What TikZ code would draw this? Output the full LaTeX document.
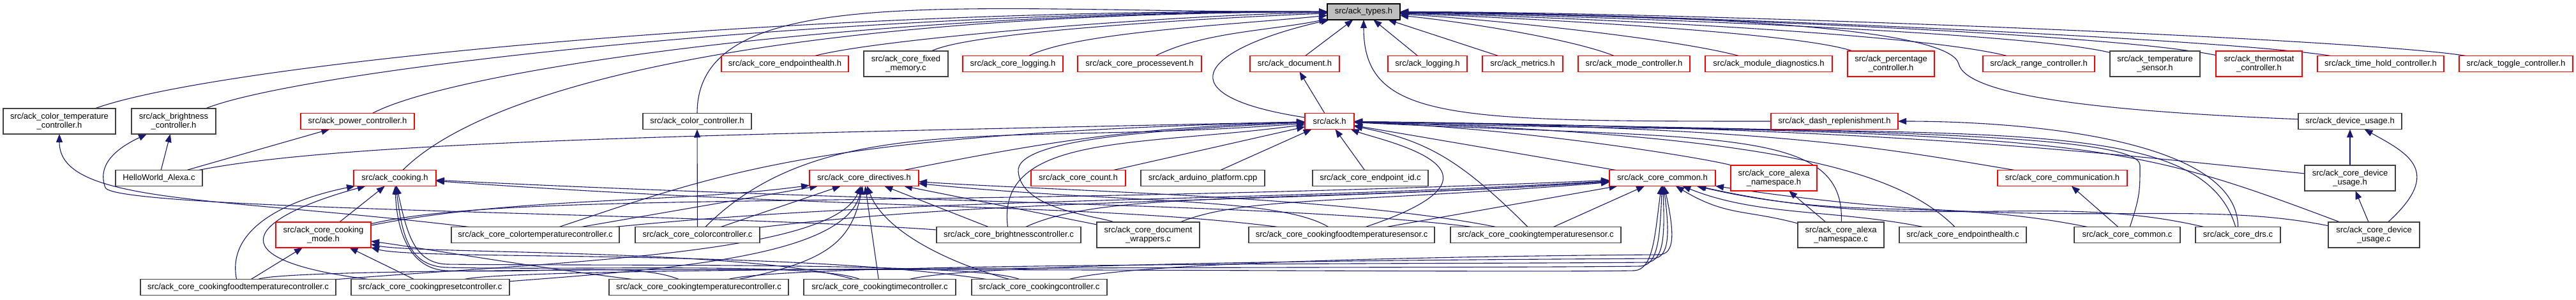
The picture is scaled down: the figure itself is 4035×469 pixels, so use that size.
\documentclass[tikz,border=0pt]{standalone}
\usepackage{fontspec}
\setmainfont{Liberation Sans}
\usepackage{xcolor}
\usepackage{tikz}
\usetikzlibrary{arrows.meta,positioning,backgrounds}

\definecolor{edgeblue}{HTML}{191970}
\definecolor{rootgray}{HTML}{BFBFBF}

\begin{document}
\begin{tikzpicture}[
  x=1pt, y=1pt,
  font=\fontsize{13}{14}\selectfont,
  box/.style={draw=black!75, fill=white, line width=1.2pt, minimum height=25pt, inner sep=2pt, outer sep=0pt, align=center},
  redbox/.style={box, draw=red},
  root/.style={box, draw=black, fill=rootgray},
  twoline/.style={minimum height=40pt},
  dep/.style={draw=edgeblue, line width=1.1pt, -{Triangle[length=13pt,width=10pt]}}
]
  \useasboundingbox (0,0) rectangle (4035,469);

  % the header everything hangs off
  \node[root, minimum width=114pt] (types) at (2136,450.5) {src/ack\_types.h};

  % first row
  \node[redbox, minimum width=199pt] (ceph) at (1229.5,369) {src/ack\_core\_endpointhealth.h};
  \node[box, twoline, minimum width=132pt, right=24pt of ceph] (cfm) {src/ack\_core\_fixed\\\_memory.c};
  \node[redbox, minimum width=157pt, right=23pt of cfm] (clog) {src/ack\_core\_logging.h};
  \node[redbox, minimum width=194pt, right=23pt of clog] (cpe) {src/ack\_core\_processevent.h};
  \node[redbox, minimum width=140pt, right=76pt of cpe] (doc) {src/ack\_document.h};
  \node[redbox, minimum width=124pt, right=76pt of doc] (log) {src/ack\_logging.h};
  \node[redbox, minimum width=126pt, right=24pt of log] (met) {src/ack\_metrics.h};
  \node[redbox, minimum width=175pt, right=24pt of met] (mode) {src/ack\_mode\_controller.h};
  \node[redbox, minimum width=199pt, right=24pt of mode] (diag) {src/ack\_module\_diagnostics.h};
  \node[redbox, twoline, minimum width=136pt, right=24pt of diag] (pct) {src/ack\_percentage\\\_controller.h};
  \node[redbox, minimum width=175pt, right=76pt of pct] (range) {src/ack\_range\_controller.h};
  \node[box, twoline, minimum width=141pt, right=24pt of range] (tsens) {src/ack\_temperature\\\_sensor.h};
  \node[redbox, twoline, minimum width=135pt, right=25pt of tsens] (thermo) {src/ack\_thermostat\\\_controller.h};
  \node[redbox, minimum width=198pt, right=24pt of thermo] (thold) {src/ack\_time\_hold\_controller.h};
  \node[redbox, minimum width=178pt, right=24pt of thold] (toggle) {src/ack\_toggle\_controller.h};

  % second row
  \node[box, twoline, minimum width=176pt] (ctc) at (93,279) {src/ack\_color\_temperature\\\_controller.h};
  \node[box, twoline, minimum width=132pt, right=25pt of ctc] (bc) {src/ack\_brightness\\\_controller.h};
  \node[redbox, minimum width=178pt, right=133pt of bc] (pc) {src/ack\_power\_controller.h};
  \node[box, minimum width=170pt, right=358pt of pc] (cc) {src/ack\_color\_controller.h};
  \node[redbox, minimum width=77pt, right=867pt of cc] (ack) {src/ack.h};
  \node[redbox, minimum width=199pt, right=653pt of ack] (dash) {src/ack\_dash\_replenishment.h};
  \node[box, minimum width=162pt, right=627pt of dash] (du) {src/ack\_device\_usage.h};

  % third row
  \node[box, minimum width=136pt] (hw) at (249,190) {HelloWorld\_Alexa.c};
  \node[redbox, minimum width=129pt, right=237pt of hw] (cook) {src/ack\_cooking.h};
  \node[redbox, minimum width=171pt, right=585pt of cook] (dir) {src/ack\_core\_directives.h};
  \node[redbox, minimum width=148pt, right=176pt of dir] (cnt) {src/ack\_core\_count.h};
  \node[box, minimum width=194pt, right=24pt of cnt] (ard) {src/ack\_arduino\_platform.cpp};
  \node[box, minimum width=181pt, right=75pt of ard] (eid) {src/ack\_core\_endpoint\_id.c};
  \node[redbox, minimum width=166pt, right=284pt of eid] (com) {src/ack\_core\_common.h};
  \node[redbox, twoline, minimum width=135pt, right=24pt of com] (ans) {src/ack\_core\_alexa\\\_namespace.h};
  \node[redbox, minimum width=203pt, right=283pt of ans] (comm) {src/ack\_core\_communication.h};
  \node[box, twoline, minimum width=142pt, right=278pt of comm] (cdu) {src/ack\_core\_device\\\_usage.h};

  % fourth row
  \node[redbox, twoline, minimum width=149pt] (ccm) at (506.5,101) {src/ack\_core\_cooking\\\_mode.h};
  \node[box, minimum width=263pt, right=126pt of ccm] (ctcc) {src/ack\_core\_colortemperaturecontroller.c};
  \node[box, minimum width=195pt, right=25pt of ctcc] (ccc) {src/ack\_core\_colorcontroller.c};
  \node[box, minimum width=226pt, right=277pt of ccc] (cbc) {src/ack\_core\_brightnesscontroller.c};
  \node[box, twoline, minimum width=161pt, right=25pt of cbc] (cdw) {src/ack\_core\_document\\\_wrappers.c};
  \node[box, minimum width=291pt, right=77pt of cdw] (cfts) {src/ack\_core\_cookingfoodtemperaturesensor.c};
  \node[box, minimum width=267pt, right=25pt of cfts] (cts) {src/ack\_core\_cookingtemperaturesensor.c};
  \node[box, twoline, minimum width=135pt, right=277pt of cts] (cansc) {src/ack\_core\_alexa\\\_namespace.c};
  \node[box, minimum width=199pt, right=24pt of cansc] (cehc) {src/ack\_core\_endpointhealth.c};
  \node[box, minimum width=166pt, right=75pt of cehc] (ccomc) {src/ack\_core\_common.c};
  \node[box, minimum width=133pt, right=24pt of ccomc] (drs) {src/ack\_core\_drs.c};
  \node[box, twoline, minimum width=143pt, right=75pt of drs] (cduc) {src/ack\_core\_device\\\_usage.c};

  % bottom row
  \node[box, minimum width=306pt] (cftc) at (373,19) {src/ack\_core\_cookingfoodtemperaturecontroller.c};
  \node[box, minimum width=248pt, right=24pt of cftc] (cpc) {src/ack\_core\_cookingpresetcontroller.c};
  \node[box, minimum width=281pt, right=156pt of cpc] (ctmpc) {src/ack\_core\_cookingtemperaturecontroller.c};
  \node[box, minimum width=238pt, right=24pt of ctmpc] (ctimc) {src/ack\_core\_cookingtimecontroller.c};
  \node[box, minimum width=212pt, right=25pt of ctimc] (cokc) {src/ack\_core\_cookingcontroller.c};

  \begin{scope}[on background layer]
  \fill[white] (0,0) rectangle (4035,469);

  % into ack_types.h
  \draw[dep] (ceph) .. controls +(150,40) and +(-300,-5) .. (types);
  \draw[dep] (cfm) .. controls +(100,50) and +(-250,-10) .. (types);
  \draw[dep] (clog) .. controls +(100,50) and +(-200,-20) .. (types);
  \draw[dep] (cpe) .. controls +(100,50) and +(-150,-30) .. (types);
  \draw[dep] (doc) -- (types);
  \draw[dep] (log) -- (types);
  \draw[dep] (met) -- (types);
  \draw[dep] (mode) .. controls +(-100,40) and +(150,-15) .. (types);
  \draw[dep] (diag) .. controls +(-150,40) and +(200,-12) .. (types);
  \draw[dep] (pct) .. controls +(-150,50) and +(250,-10) .. (types);
  \draw[dep] (range) .. controls +(-200,50) and +(300,-8) .. (types);
  \draw[dep] (tsens) .. controls +(-200,50) and +(350,-6) .. (types);
  \draw[dep] (thermo) .. controls +(-250,50) and +(400,-4) .. (types);
  \draw[dep] (thold) .. controls +(-250,40) and +(450,-2) .. (types);
  \draw[dep] (toggle) .. controls +(-250,40) and +(500,0) .. (types);
  \draw[dep] (ctc) .. controls +(250,90) and +(-900,5) .. (types);
  \draw[dep] (bc) .. controls +(200,80) and +(-850,2) .. (types);
  \draw[dep] (pc) .. controls +(150,80) and +(-800,0) .. (types);
  \draw[dep] (cc) .. controls +(0,221) and (1500,450) .. (types);
  \draw[dep] (cook) .. controls +(150,150) and +(-900,-3) .. (types);
  \draw[dep] (ack) .. controls +(-260,40) and +(-260,-60) .. (types);
  \draw[dep] (dash) .. controls +(-600,0) and +(0,-170.5) .. (types);
  \draw[dep] (du) .. controls +(-400,16) and (3080,320) .. (3068,369)
    .. controls (3055,420) and +(600,-5) .. (types);
  \draw[dep] (ack) -- (doc);

  % into the second row
  \draw[dep] (hw) -- (bc);
  \draw[dep] (hw) -- (pc);
  \draw[dep] (ctcc) .. controls +(-500,60) and +(0,-130) .. (ctc);
  \draw[dep] (cbc) .. controls (1100,135) and (180,140) .. (165,175)
    .. controls (150,215) and (190,240) .. (bc);
  \draw[dep] (ccc) -- (cc);
  \draw[dep] (drs) .. controls +(0,150) and +(300,0) .. (dash);
  \draw[dep] (cdu) -- (du);
  \draw[dep] (cduc) .. controls +(110,100) and +(90,-50) .. (du);

  % into ack.h
  \draw[dep] (hw) .. controls +(300,60) and +(-900,-20) .. (ack);
  \draw[dep] (dir) .. controls +(300,60) and +(-300,-10) .. (ack);
  \draw[dep] (cnt) -- (ack);
  \draw[dep] (ard) -- (ack);
  \draw[dep] (eid) -- (ack);
  \draw[dep] (com) -- (ack);
  \draw[dep] (ans) .. controls +(-100,30) and +(300,-10) .. (ack);
  \draw[dep] (comm) .. controls +(-300,50) and +(700,-10) .. (ack);
  \draw[dep] (cdu) .. controls +(-400,40) and +(900,-10) .. (ack);
  \draw[dep] (ctcc) .. controls +(300,100) and +(-800,-20) .. (ack);
  \draw[dep] (ccc) .. controls +(200,200) and +(-500,-40) .. (ack);
  \draw[dep] (cbc) .. controls +(-20,160) and +(-300,-40) .. (ack);
  \draw[dep] (cdw) .. controls +(-80,30) and (1600,140) .. (1595,200)
    .. controls (1590,250) and (1800,265) .. (ack);
  \draw[dep] (cfts) .. controls +(300,100) and +(80,-30) .. (ack);
  \draw[dep] (cts) .. controls +(-120,120) and +(150,-30) .. (ack);
  \draw[dep] (cansc) .. controls (2890,270) and (2700,250) .. (ack);
  \draw[dep] (cehc) .. controls +(-100,100) and +(700,-20) .. (ack);
  \draw[dep] (ccomc) .. controls +(20,60) and (3352,170) .. (3352,210)
    .. controls (3352,260) and (2900,265) .. (ack);
  \draw[dep] (drs) .. controls +(-60,200) and +(1000,-30) .. (ack);
  \draw[dep] (cduc) .. controls +(-400,150) and +(1200,-20) .. (ack);

  % third row headers
  \draw[dep] (cansc) -- (ans);
  \draw[dep] (ccomc) -- (comm);
  \draw[dep] (cduc) -- (cdu);
  \draw[dep] (ccm) -- (cook);
  \draw[dep] (cftc) .. controls +(-20,100) and +(-150,-30) .. (cook);
  \draw[dep] (cpc) .. controls +(-350,45) and +(-220,-60) .. (cook);
  \draw[dep] (ctmpc) .. controls +(-100,40) and (850,40) .. (700,45)
    .. controls (645,47) and (622,100) .. (cook);
  \draw[dep] (ctimc) .. controls +(-100,40) and (900,45) .. (700,50)
    .. controls (640,52) and (630,100) .. (cook);
  \draw[dep] (cokc) .. controls +(-100,40) and (950,52) .. (700,55)
    .. controls (650,57) and (638,100) .. (cook);
  \draw[dep] (cfts) .. controls +(-400,50) and +(700,-50) .. (cook);
  \draw[dep] (cts) .. controls +(-400,50) and +(800,-40) .. (cook);

  % into ack_core_directives.h
  \draw[dep] (ctcc) -- (dir);
  \draw[dep] (ccc) -- (dir);
  \draw[dep] (cbc) -- (dir);
  \draw[dep] (cdw) -- (dir);
  \draw[dep] (cfts) .. controls +(-100,60) and +(400,-40) .. (dir);
  \draw[dep] (cts) .. controls +(-300,60) and +(300,-20) .. (dir);
  \draw[dep] (ccm) .. controls +(300,60) and +(-300,-40) .. (dir);
  \draw[dep] (cftc) .. controls +(500,40) and +(-50,-120) .. (dir);
  \draw[dep] (cpc) .. controls +(400,30) and +(-30,-120) .. (dir);
  \draw[dep] (ctmpc) .. controls +(200,40) and +(-20,-100) .. (dir);
  \draw[dep] (ctimc) -- (dir);
  \draw[dep] (cokc) .. controls +(-150,40) and +(30,-80) .. (dir);

  % into ack_core_common.h
  \draw[dep] (ctcc) .. controls +(600,60) and +(-700,-40) .. (com);
  \draw[dep] (ccc) .. controls +(500,60) and +(-600,-40) .. (com);
  \draw[dep] (cbc) .. controls +(150,70) and +(-600,-40) .. (com);
  \draw[dep] (cdw) .. controls +(150,60) and +(-500,-40) .. (com);
  \draw[dep] (ccm) .. controls +(300,70) and +(-1200,-50) .. (com);
  \draw[dep] (cfts) -- (com);
  \draw[dep] (cts) -- (com);
  \draw[dep] (cansc) .. controls +(-150,40) and +(100,-60) .. (com);
  \draw[dep] (cehc) .. controls +(-200,40) and +(150,-60) .. (com);
  \draw[dep] (ccomc) .. controls +(-300,60) and +(300,-70) .. (com);
  \draw[dep] (drs) .. controls +(-300,70) and +(400,-90) .. (com);
  \draw[dep] (cduc) .. controls +(-300,60) and +(600,-90) .. (com);
  \draw[dep] (cftc) .. controls +(100,40) and (2300,40) .. (2560,45)
    .. controls (2590,47) and (2592,100) .. (com);
  \draw[dep] (cpc) .. controls +(150,35) and (2300,48) .. (2570,52)
    .. controls (2598,54) and (2600,100) .. (com);
  \draw[dep] (ctmpc) .. controls +(150,40) and (2300,55) .. (2580,58)
    .. controls (2606,60) and (2608,100) .. (com);
  \draw[dep] (ctimc) .. controls +(150,40) and (2300,62) .. (2590,64)
    .. controls (2614,66) and (2616,100) .. (com);
  \draw[dep] (cokc) .. controls +(150,40) and (2300,68) .. (2600,70)
    .. controls (2622,72) and (2624,100) .. (com);

  % into ack_core_cooking_mode.h
  \draw[dep] (cftc) -- (ccm);
  \draw[dep] (cpc) -- (ccm);
  \draw[dep] (ctmpc) .. controls +(-250,30) and +(150,-20) .. (ccm);
  \draw[dep] (ctimc) .. controls +(-200,60) and +(150,-30) .. (ccm);
  \draw[dep] (cokc) .. controls +(-400,60) and +(150,-40) .. (ccm);
  \end{scope}
\end{tikzpicture}
\end{document}
